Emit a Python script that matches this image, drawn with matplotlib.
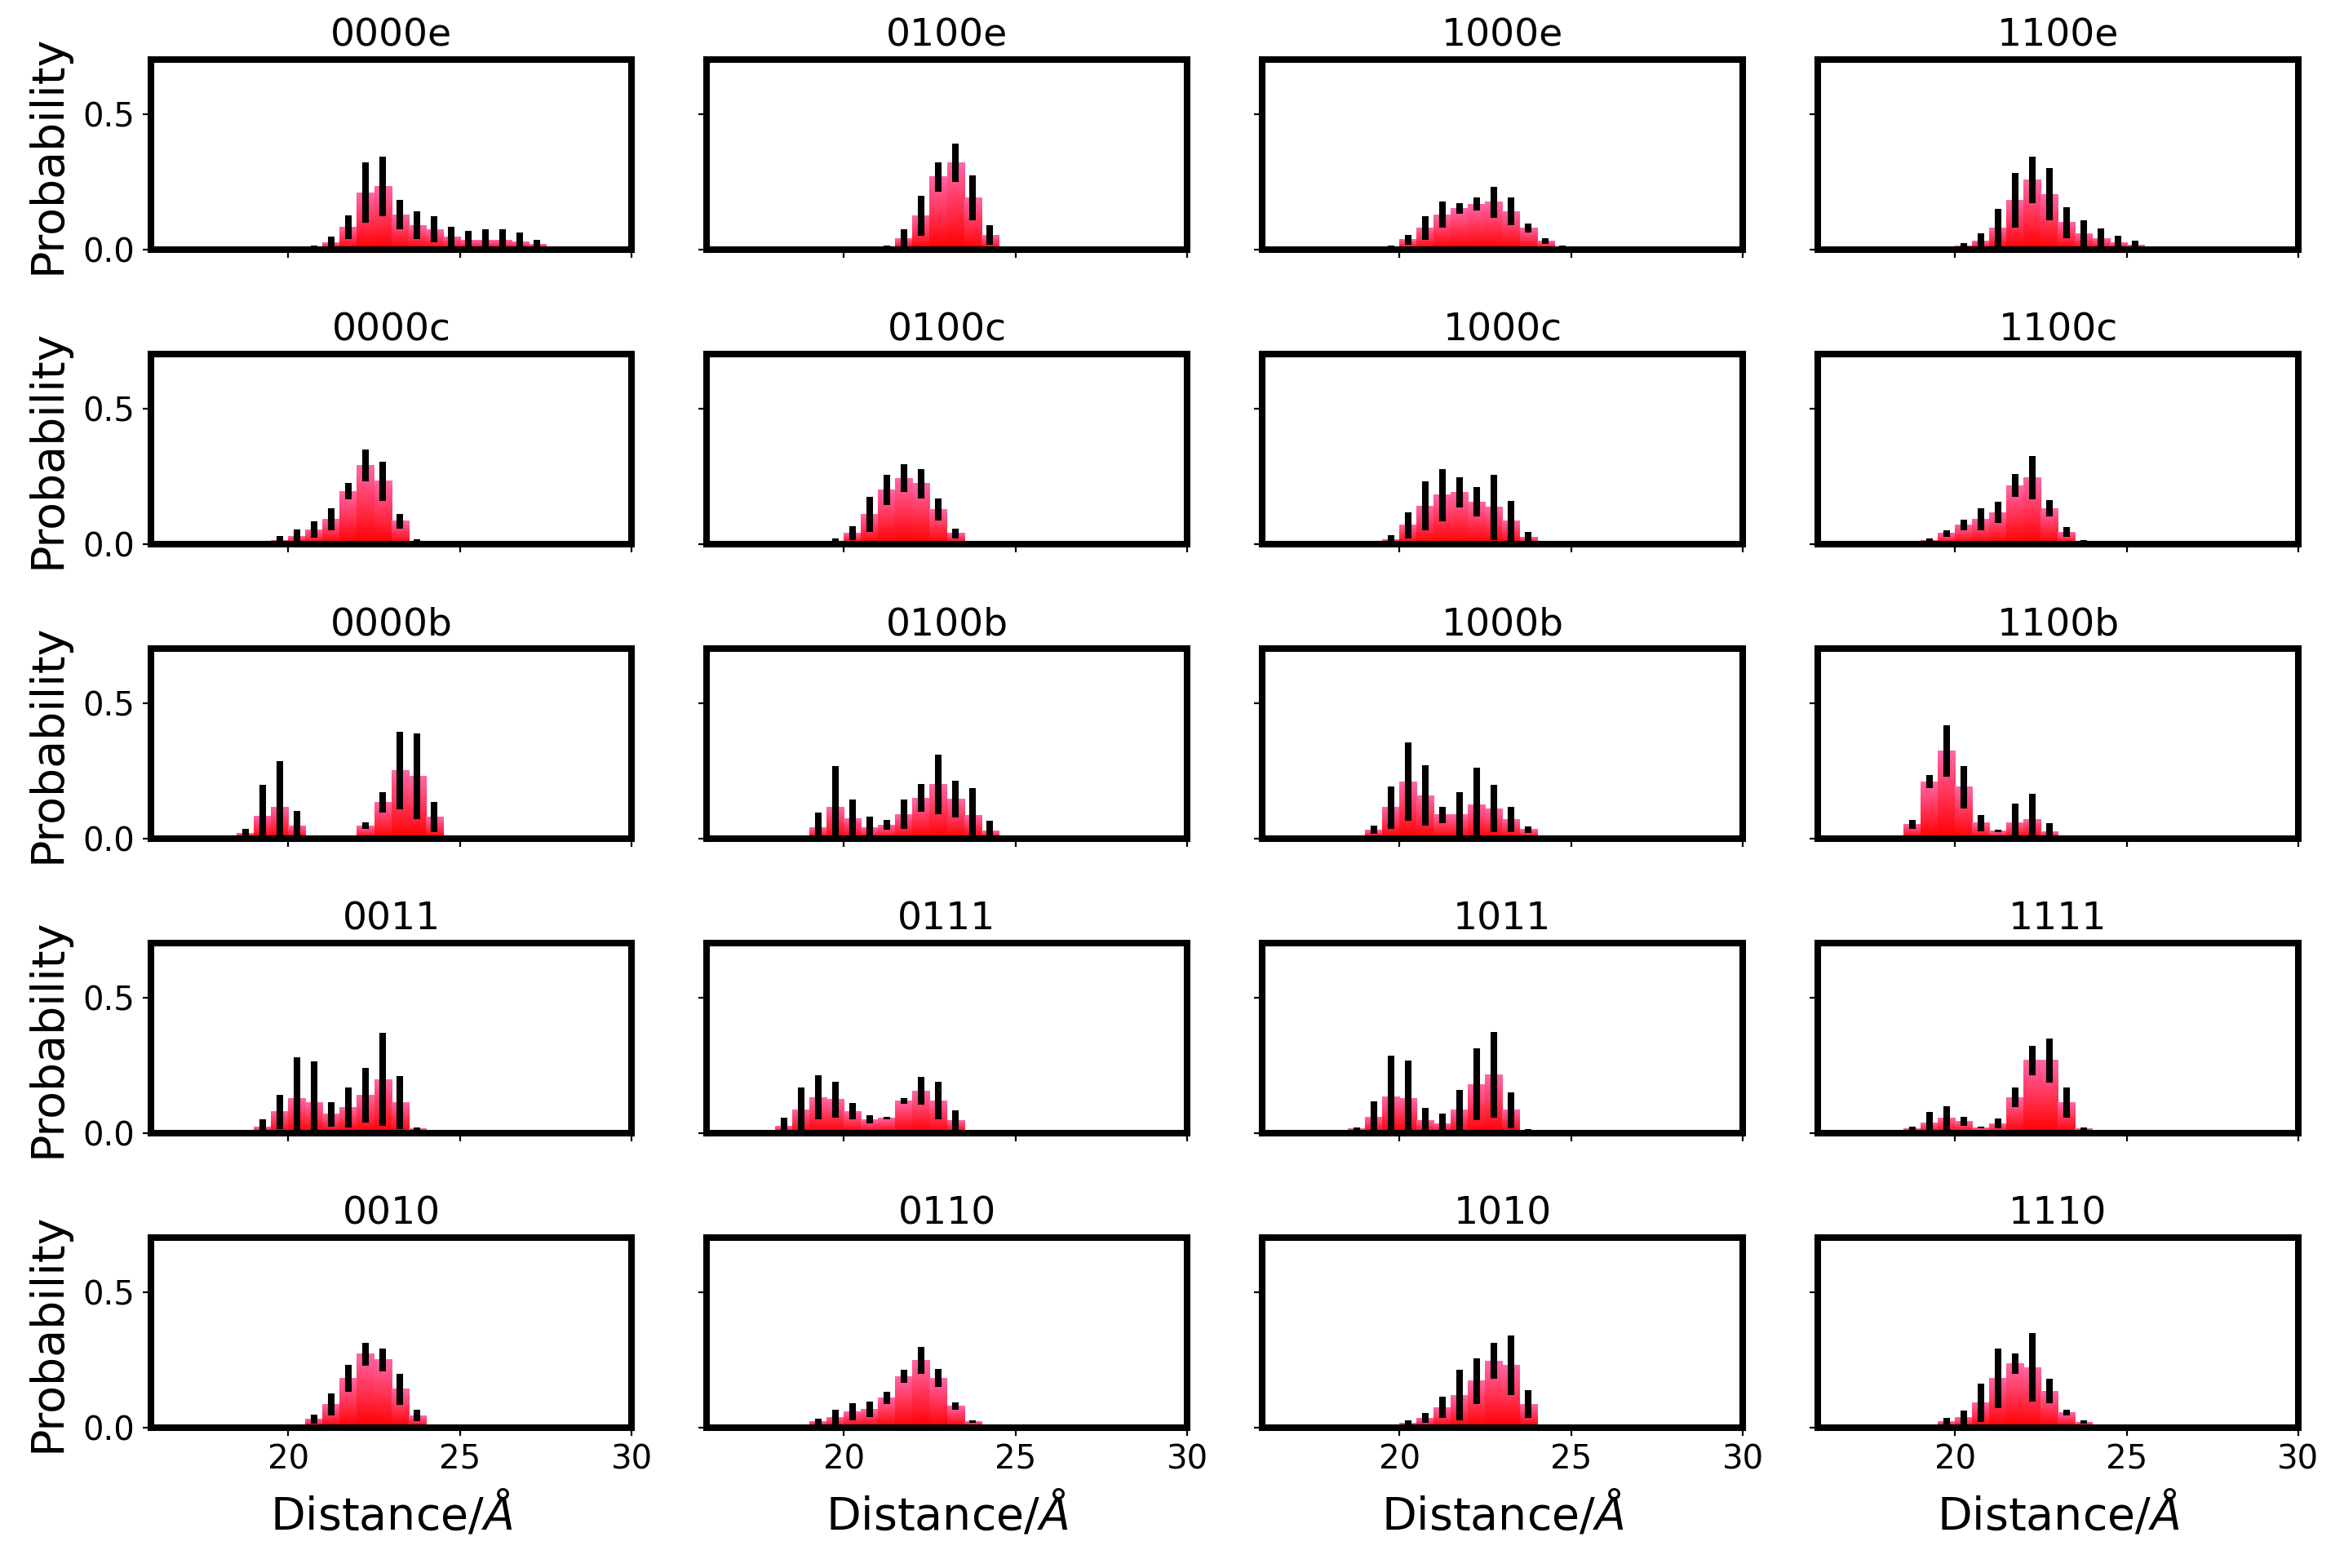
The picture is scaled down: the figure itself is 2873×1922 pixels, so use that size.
import numpy as np
import matplotlib
matplotlib.use("Agg")
import matplotlib.pyplot as plt
from matplotlib.colors import LinearSegmentedColormap

# panel order, row by row
names = ["0000e", "0100e", "1000e", "1100e",
         "0000c", "0100c", "1000c", "1100c",
         "0000b", "0100b", "1000b", "1100b",
         "0011", "0111", "1011", "1111",
         "0010", "0110", "1010", "1110"]

# centre of the first 0.5 A bin of each panel
starts = {"0000e": 20.75, "0100e": 21.25, "1000e": 19.75, "1100e": 20.25,
          "0000c": 19.75, "0100c": 19.75, "1000c": 19.75, "1100c": 19.25,
          "0000b": 18.75, "0100b": 19.25, "1000b": 19.25, "1100b": 18.75,
          "0011": 19.25, "0111": 18.25, "1011": 18.75, "1111": 18.75,
          "0010": 20.75, "0110": 19.25, "1010": 20.25, "1110": 19.25}

# probability per bin
probs = {
    "0000e": [0.008, 0.027, 0.082, 0.21, 0.232, 0.129, 0.089, 0.075, 0.048, 0.035, 0.035, 0.035, 0.028, 0.02],
    "0100e": [0.008, 0.042, 0.124, 0.268, 0.32, 0.19, 0.054],
    "1000e": [0.008, 0.037, 0.08, 0.128, 0.152, 0.167, 0.175, 0.141, 0.08, 0.032, 0.008],
    "1100e": [0.015, 0.033, 0.081, 0.182, 0.257, 0.204, 0.1, 0.058, 0.04, 0.026, 0.017, 0.006],
    "0000c": [0.015, 0.03, 0.054, 0.092, 0.195, 0.29, 0.232, 0.085, 0.012],
    "0100c": [0.01, 0.04, 0.11, 0.2, 0.243, 0.223, 0.127, 0.04],
    "1000c": [0.018, 0.07, 0.14, 0.181, 0.191, 0.156, 0.136, 0.085, 0.025],
    "1100c": [0.015, 0.04, 0.07, 0.092, 0.117, 0.216, 0.245, 0.132, 0.045, 0.01],
    "0000b": [0.02, 0.082, 0.116, 0.048, 0, 0, 0, 0.048, 0.134, 0.25, 0.23, 0.08],
    "0100b": [0.04, 0.116, 0.073, 0.042, 0.05, 0.09, 0.15, 0.2, 0.145, 0.087, 0.03],
    "1000b": [0.032, 0.115, 0.21, 0.159, 0.088, 0.089, 0.125, 0.111, 0.07, 0.034],
    "1100b": [0.052, 0.21, 0.323, 0.19, 0.058, 0.028, 0.06, 0.07, 0.026],
    "0011": [0.022, 0.079, 0.128, 0.113, 0.07, 0.094, 0.14, 0.198, 0.113, 0.016],
    "0111": [0.027, 0.085, 0.132, 0.124, 0.08, 0.05, 0.055, 0.119, 0.156, 0.12, 0.048],
    "1011": [0.017, 0.058, 0.133, 0.128, 0.048, 0.034, 0.085, 0.18, 0.215, 0.085, 0.012],
    "1111": [0.018, 0.038, 0.055, 0.044, 0.021, 0.036, 0.132, 0.268, 0.268, 0.112, 0.017],
    "0010": [0.032, 0.085, 0.182, 0.271, 0.25, 0.142, 0.045],
    "0110": [0.022, 0.037, 0.058, 0.067, 0.109, 0.189, 0.247, 0.183, 0.08, 0.022],
    "1010": [0.016, 0.036, 0.075, 0.119, 0.172, 0.246, 0.23, 0.087, 0.009],
    "1110": [0.01, 0.024, 0.037, 0.092, 0.182, 0.235, 0.222, 0.135, 0.055, 0.02],
}

# error (half length of the black bars)
errs = {
    "0000e": [0.008, 0.022, 0.044, 0.11, 0.109, 0.054, 0.051, 0.048, 0.035, 0.034, 0.04, 0.04, 0.034, 0.015],
    "0100e": [0.008, 0.033, 0.074, 0.054, 0.072, 0.082, 0.035],
    "1000e": [0.008, 0.018, 0.044, 0.048, 0.02, 0.024, 0.057, 0.05, 0.017, 0.01, 0.006],
    "1100e": [0.01, 0.028, 0.07, 0.1, 0.086, 0.095, 0.057, 0.05, 0.038, 0.025, 0.016, 0.006],
    "0000c": [0.015, 0.025, 0.03, 0.041, 0.031, 0.058, 0.072, 0.027, 0.005],
    "0100c": [0.01, 0.025, 0.065, 0.055, 0.05, 0.054, 0.041, 0.018],
    "1000c": [0.015, 0.048, 0.09, 0.096, 0.055, 0.055, 0.12, 0.075, 0.02],
    "1100c": [0.005, 0.012, 0.02, 0.041, 0.038, 0.042, 0.08, 0.03, 0.018, 0.004],
    "0000b": [0.016, 0.116, 0.168, 0.055, 0, 0, 0, 0.013, 0.038, 0.143, 0.157, 0.055],
    "0100b": [0.057, 0.152, 0.07, 0.04, 0.018, 0.054, 0.05, 0.109, 0.068, 0.1, 0.035],
    "1000b": [0.015, 0.078, 0.145, 0.11, 0.03, 0.082, 0.135, 0.087, 0.047, 0.012],
    "1100b": [0.016, 0.023, 0.096, 0.078, 0.03, 0.005, 0.07, 0.094, 0.03],
    "0011": [0.03, 0.063, 0.15, 0.152, 0.045, 0.074, 0.1, 0.172, 0.097, 0.005],
    "0111": [0.03, 0.083, 0.081, 0.066, 0.03, 0.015, 0.005, 0.01, 0.05, 0.07, 0.035],
    "1011": [0.005, 0.06, 0.152, 0.14, 0.045, 0.038, 0.075, 0.132, 0.158, 0.066, 0.003],
    "1111": [0.005, 0.04, 0.045, 0.016, 0.004, 0.017, 0.037, 0.054, 0.081, 0.056, 0.005],
    "0010": [0.017, 0.04, 0.049, 0.042, 0.042, 0.057, 0.022],
    "0110": [0.01, 0.03, 0.032, 0.028, 0.023, 0.025, 0.05, 0.034, 0.013, 0.005],
    "1010": [0.01, 0.018, 0.039, 0.093, 0.084, 0.067, 0.11, 0.05, 0.004],
    "1110": [0.003, 0.013, 0.025, 0.07, 0.11, 0.038, 0.127, 0.045, 0.01, 0.006],
}

bin_w = 0.5
cmap = LinearSegmentedColormap.from_list("rp", [(1.0, 0.0, 0.0), (1.0, 0.4, 0.66)])
grad = np.linspace(0, 1, 64).reshape(-1, 1)

fig, axes = plt.subplots(5, 4, figsize=(14.365, 9.61), dpi=200, sharex=True, sharey=True)
fig.subplots_adjust(left=0.0644, right=0.9805, top=0.962, bottom=0.0895,
                    wspace=0.156, hspace=0.55)

for k, name in enumerate(names):
    ax = axes[k // 4][k % 4]
    p = np.array(probs[name])
    e = np.array(errs[name])
    x = starts[name] + bin_w * np.arange(len(p))
    for xi, pi in zip(x, p):
        if pi <= 0:
            continue
        ax.imshow(grad, extent=(xi - bin_w / 2, xi + bin_w / 2, 0, pi), origin="lower",
                  aspect="auto", cmap=cmap, interpolation="bilinear", zorder=1)
    keep = e > 0
    ax.errorbar(x[keep], p[keep], yerr=e[keep], fmt="none", ecolor="black",
                elinewidth=2.9, capsize=0, zorder=2)
    ax.set_xlim(16, 30)
    ax.set_ylim(0, 0.7)
    ax.set_xticks([20, 25, 30])
    ax.set_yticks([0.0, 0.5])
    ax.set_title(name, fontsize=17)
    for sp in ax.spines.values():
        sp.set_linewidth(2.9)
    ax.tick_params(labelsize=14.5)
    if k % 4 == 0:
        ax.set_ylabel("Probability", fontsize=20, labelpad=6)
    if k // 4 == 4:
        ax.set_xlabel("Distance/$Å$", fontsize=20, labelpad=6)

fig.savefig("out.png", dpi=200)
